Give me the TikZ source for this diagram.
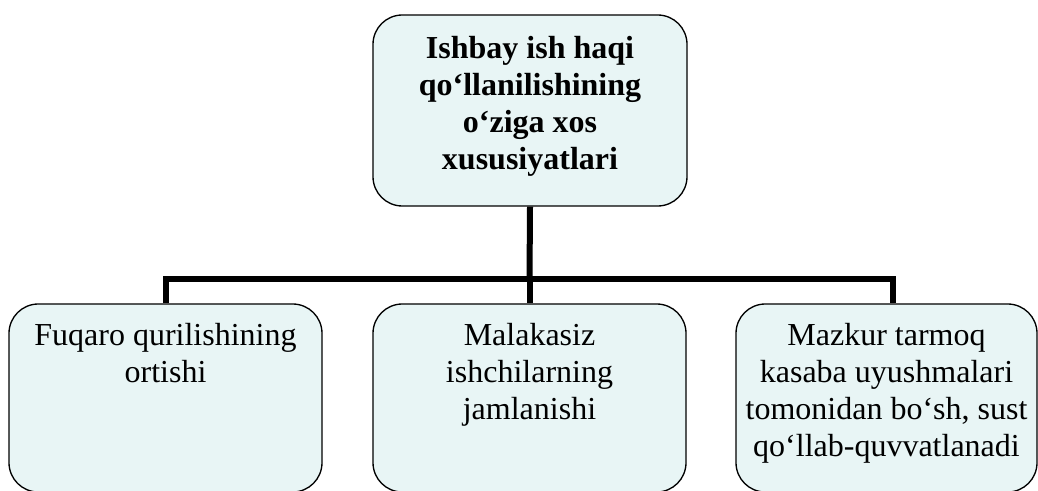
\documentclass[tikz,border=0pt]{standalone}
\usepackage{fontspec}
\setmainfont{Liberation Serif}
\definecolor{boxfill}{RGB}{232,245,245}
\begin{document}
\begin{tikzpicture}[x=0.75pt,y=-0.75pt,
  box/.style={draw=black,line width=1pt,fill=boxfill,rounded corners=22pt,inner sep=0pt},
  toptext/.style={font=\fontsize{24}{27.75}\selectfont\bfseries,align=center,inner sep=0pt,anchor=north},
  lowtext/.style={font=\fontsize{24}{27.75}\selectfont,align=center,inner sep=0pt,anchor=north},
  conn/.style={line width=4.5pt,line join=miter}]
\useasboundingbox (0,0) rectangle (1038,491);
\begin{scope}
\clip (0,0) rectangle (1038,491);
\node[box,minimum width=235.5pt,minimum height=143.25pt] (top) at (530,110.5) {};
\node[box,minimum width=234.75pt,minimum height=141pt] (lft) at (165.5,398) {};
\node[box,minimum width=234.75pt,minimum height=141pt] (mid) at (529.5,398) {};
\node[box,minimum width=225.75pt,minimum height=141pt] (rgt) at (886.5,398) {};
\end{scope}
\node[toptext] (toptxt) at ([yshift=-16pt]top.north) {Ishbay ish haqi\\qo‘llanilishining\\o‘ziga xos\\xususiyatlari};
\node[lowtext] (lfttxt) at ([yshift=-14.5pt]lft.north) {Fuqaro qurilishining\\ortishi};
\node[lowtext] (midtxt) at ([yshift=-14.5pt]mid.north) {Malakasiz\\ishchilarning\\jamlanishi};
\node[lowtext] (rgttxt) at ([yshift=-14.5pt]rgt.north) {Mazkur tarmoq\\kasaba uyushmalari\\tomonidan bo‘sh, sust\\qo‘llab-quvvatlanadi};
\coordinate (j) at (529.5,279.5);
\coordinate (rc) at ([xshift=4.875pt]rgt.north);
\draw[conn] (top.south) -- (j);
\draw[conn] (lft.north) |- (j) -| (rc);
\draw[conn] (j) -- (mid.north);
\end{tikzpicture}
\end{document}
